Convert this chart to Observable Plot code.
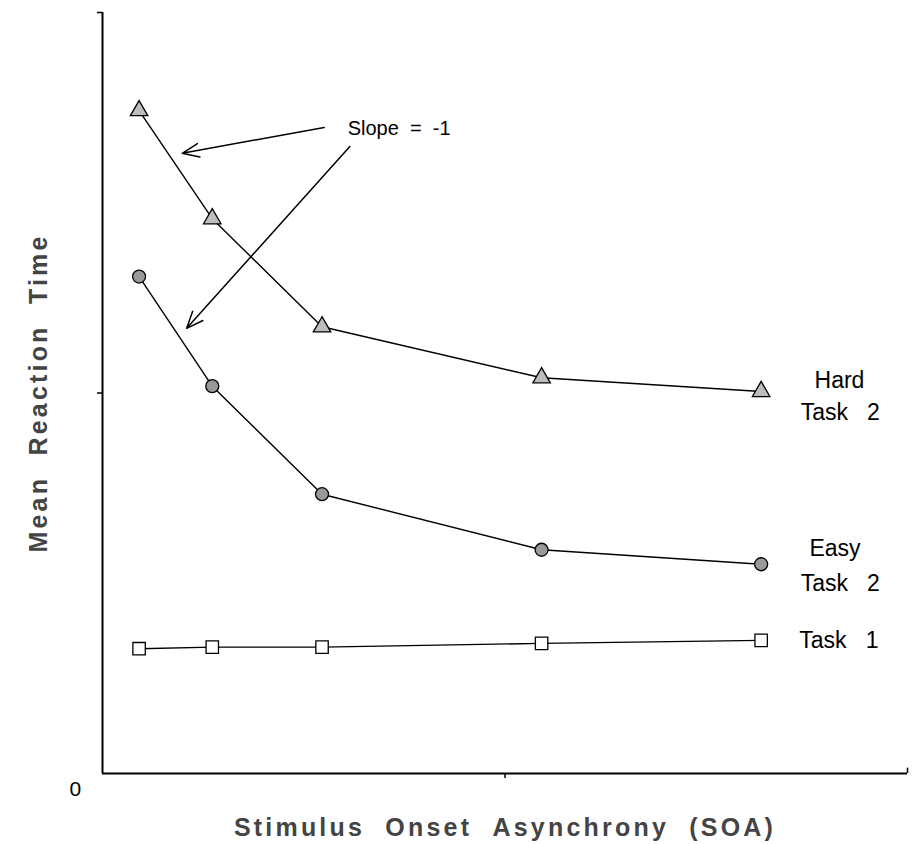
<!DOCTYPE html>
<html>
<head>
<meta charset="utf-8">
<script src="https://cdn.jsdelivr.net/npm/d3@7"></script>
<script src="https://cdn.jsdelivr.net/npm/@observablehq/plot@0.6"></script>
<style>
  html, body { margin: 0; padding: 0; background: #fff; }
  #chart svg { display: block; }
  .boldlabel { letter-spacing: 3.2px; }
</style>
</head>
<body>
<div id="chart"></div>
<script>
// SOA (ms) and mean reaction times (arbitrary units)
const soa = [50, 150, 300, 600, 900];
const hardTask2 = [871, 729, 587, 520, 502];
const easyTask2 = [653, 509, 367, 294, 275];
const task1 = [164, 166, 166, 171, 175];
const seriesNames = ["Hard Task 2", "Easy Task 2", "Task 1"];
const sp = (n) => "\u00a0".repeat(n);
const xAxisLabel = ["Stimulus", "Onset", "Asynchrony", "(SOA)"].join(sp(2));
const yAxisLabel = ["Mean", "Reaction", "Time"].join(sp(2));
const originLabel = "0";
const slopeLabel = "Slope" + sp(2) + "=" + sp(2) + "-1";

const hard = soa.map((s, i) => ({soa: s, rt: hardTask2[i], series: seriesNames[0]}));
const easy = soa.map((s, i) => ({soa: s, rt: easyTask2[i], series: seriesNames[1]}));
const t1 = soa.map((s, i) => ({soa: s, rt: task1[i], series: seriesNames[2]}));

const rightLabels = [
  {x: 973, y: 516, t: "Hard"},
  {x: 954, y: 474, t: "Task" + sp(3) + "2"},
  {x: 966, y: 296, t: "Easy"},
  {x: 954, y: 250, t: "Task" + sp(3) + "2"},
  {x: 952, y: 175, t: "Task" + sp(3) + "1"}
];
const arrows = [
  {x1: 303, y1: 849, x2: 109, y2: 815},
  {x1: 338, y1: 824, x2: 115, y2: 585}
];

const boldFont = "'Liberation Sans', Arial, sans-serif";

const chart = Plot.plot({
  width: 913,
  height: 844,
  marginLeft: 102,
  marginRight: 6,
  marginTop: 12,
  marginBottom: 71,
  style: {fontFamily: "'Liberation Sans', Arial, sans-serif", background: "#fff", color: "#000"},
  x: {domain: [0, 1100]},
  y: {domain: [0, 1000]},
  marks: [
    Plot.ruleY([0], {stroke: "#000", strokeWidth: 2}),
    Plot.ruleX([0], {stroke: "#000", strokeWidth: 2}),
    Plot.ruleX([1100], {y1: 0, y2: 7, stroke: "#000", strokeWidth: 1.5}),
    Plot.axisX({ticks: [550], tickSize: 5, tickFormat: () => "", label: null, strokeWidth: 1.5}),
    Plot.axisY({ticks: [500, 1000], tickSize: 5, tickFormat: () => "", label: null, strokeWidth: 1.5}),
    Plot.line(hard, {x: "soa", y: "rt", stroke: "#000", strokeWidth: 1.4}),
    Plot.line(easy, {x: "soa", y: "rt", stroke: "#000", strokeWidth: 1.4}),
    Plot.line(t1, {x: "soa", y: "rt", stroke: "#000", strokeWidth: 1.4}),
    Plot.dot(hard, {x: "soa", y: "rt", symbol: "triangle", r: 6.5, fill: "#bdbdbd", stroke: "#000", strokeWidth: 1.3}),
    Plot.dot(easy, {x: "soa", y: "rt", symbol: "circle", r: 6.5, fill: "#999", stroke: "#000", strokeWidth: 1.3}),
    Plot.dot(t1, {x: "soa", y: "rt", symbol: "square", r: 7, fill: "#fff", stroke: "#000", strokeWidth: 1.3}),
    Plot.arrow(arrows, {x1: "x1", y1: "y1", x2: "x2", y2: "y2", stroke: "#000", strokeWidth: 1.5, headLength: 18, headAngle: 45, bend: 0}),
    Plot.text([slopeLabel], {x: 335, y: 848, text: d => d, textAnchor: "start", fontSize: 20, fill: "#000"}),
    Plot.text(rightLabels, {x: "x", y: "y", text: "t", textAnchor: "start", fontSize: 23, fill: "#000"}),
    Plot.text([originLabel], {frameAnchor: "bottom-left", dx: -33, dy: 22, text: d => d, fontSize: 21, fill: "#000"}),
    Plot.text([xAxisLabel], {frameAnchor: "bottom", textAnchor: "middle", dy: 62, text: d => d, fontSize: 25, fontWeight: "bold", fill: "#444", fontFamily: boldFont, className: "boldlabel"}),
    Plot.text([yAxisLabel], {frameAnchor: "left", textAnchor: "middle", dx: -64, rotate: -90, text: d => d, fontSize: 25, fontWeight: "bold", fill: "#444", fontFamily: boldFont, className: "boldlabel"})
  ]
});
document.getElementById("chart").appendChild(chart);
</script>
</body>
</html>
